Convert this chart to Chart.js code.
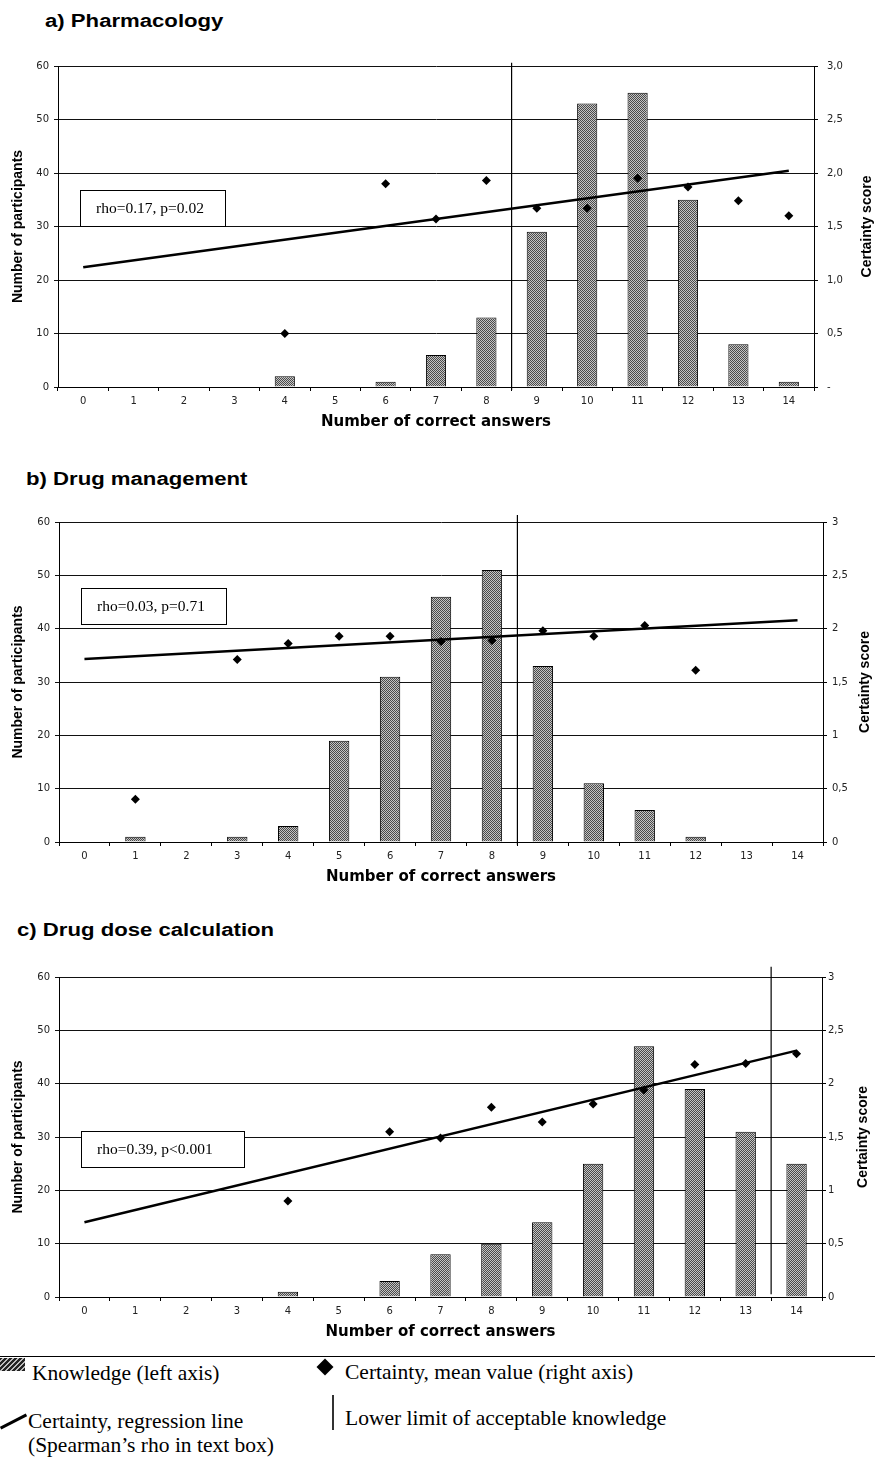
<!DOCTYPE html>
<html>
<head>
<meta charset="utf-8">
<script src="https://cdn.jsdelivr.net/npm/chart.js@4.4.1/dist/chart.umd.min.js"></script>
<style>
  body { margin: 0; width: 875px; height: 1461px; overflow: hidden; position: relative; background: #fff; }
  canvas { position: absolute; left: 0; }
  .panel-title { position: absolute; font: bold 18px "Liberation Sans", Arial, sans-serif; line-height: 1; white-space: nowrap;
                 transform: scaleX(1.23); transform-origin: left top; color: #000; }
  .legend { position: absolute; font: 21.5px "Liberation Serif", "Times New Roman", serif; line-height: 24px; white-space: nowrap; color: #000; }
  .mark { position: absolute; }
</style>
</head>
<body>

<div class="panel-title" style="left:45px;top:11.8px">a) Pharmacology</div>
<canvas id="chartA" width="875" height="389" style="top:46px"></canvas>

<div class="panel-title" style="left:26px;top:469.8px">b) Drug management</div>
<canvas id="chartB" width="875" height="388" style="top:502px"></canvas>

<div class="panel-title" style="left:17px;top:920.8px">c) Drug dose calculation</div>
<canvas id="chartC" width="875" height="388" style="top:957px"></canvas>

<!-- legend -->
<div class="mark" style="left:0;top:1356px;width:875px;height:1px;background:#000"></div>
<div class="mark" style="left:0;top:1358px;width:25px;height:13px;background:repeating-linear-gradient(135deg,#222 0 2px,#bbb 2px 3.5px)"></div>
<div class="legend" style="left:32px;top:1361px">Knowledge (left axis)</div>
<div class="mark" style="left:319px;top:1361px;width:12px;height:12px;background:#000;transform:rotate(45deg)"></div>
<div class="legend" style="left:345px;top:1360px">Certainty, mean value (right axis)</div>
<div class="mark" style="left:-1.5px;top:1420px;width:29px;height:3px;background:#000;transform:rotate(-27deg)"></div>
<div class="legend" style="left:28px;top:1409px">Certainty, regression line<br>(Spearman’s rho in text box)</div>
<div class="mark" style="left:332px;top:1395px;width:1.5px;height:35px;background:#333"></div>
<div class="legend" style="left:345px;top:1406px">Lower limit of acceptable knowledge</div>

<script>
// x categories: number of correct answers
const answers = ['0', '1', '2', '3', '4', '5', '6', '7', '8', '9', '10', '11', '12', '13', '14'];

// a) Pharmacology
const pharmKnowledge = [null, null, null, null, 2, null, 1, 6, 13, 29, 53, 55, 35, 8, 1];
const pharmCertainty = [null, null, null, null, 0.5, null, 1.9, 1.57, 1.93, 1.67, 1.67, 1.95, 1.87, 1.74, 1.6];
const pharmRegression = [1.12, null, null, null, null, null, null, null, null, null, null, null, null, null, 2.02];
const pharmLimit = 8.5;
const pharmCertTicks = ['-', '0,5', '1,0', '1,5', '2,0', '2,5', '3,0'];

// b) Drug management
const mgmtKnowledge = [null, 1, null, 1, 3, 19, 31, 46, 51, 33, 11, 6, 1, null, null];
const mgmtCertainty = [null, 0.4, null, 1.71, 1.86, 1.93, 1.93, 1.88, 1.89, 1.98, 1.93, 2.03, 1.61, null, null];
const mgmtRegression = [1.715, null, null, null, null, null, null, null, null, null, null, null, null, null, 2.08];
const mgmtLimit = 8.5;
const mgmtCertTicks = ['0', '0,5', '1', '1,5', '2', '2,5', '3'];

// c) Drug dose calculation
const doseKnowledge = [null, null, null, null, 1, null, 3, 8, 10, 14, 25, 47, 39, 31, 25];
const doseCertainty = [null, null, null, null, 0.9, null, 1.55, 1.49, 1.78, 1.64, 1.81, 1.94, 2.18, 2.19, 2.28];
const doseRegression = [0.7, null, null, null, null, null, null, null, null, null, null, null, null, null, 2.31];
const doseLimit = 13.5;
const doseCertTicks = ['0', '0,5', '1', '1,5', '2', '2,5', '3'];

function dotPattern() {
  const c = document.createElement('canvas');
  c.width = 2; c.height = 2;
  const g = c.getContext('2d');
  g.fillStyle = '#c4c4c4'; g.fillRect(0, 0, 2, 2);
  g.fillStyle = '#4a4a4a'; g.fillRect(0, 0, 1, 1); g.fillRect(1, 1, 1, 1);
  return g.createPattern(c, 'repeat');
}

// vertical "lower limit" line, placed between two categories on the x scale
const limitLine = {
  id: 'limitLine',
  afterDatasetsDraw(chart, args, o) {
    const {ctx} = chart, x = chart.scales.x, y = chart.scales.y;
    const i = Math.floor(o.value);
    const px = x.getPixelForValue(i) + (o.value - i) * (x.getPixelForValue(i + 1) - x.getPixelForValue(i));
    ctx.save();
    ctx.strokeStyle = '#000';
    ctx.lineWidth = 1.2;
    ctx.beginPath();
    ctx.moveTo(px, y.getPixelForValue(o.from));
    ctx.lineTo(px, y.getPixelForValue(o.to));
    ctx.stroke();
    ctx.restore();
  }
};

// white box with the spearman text
const rhoBox = {
  id: 'rhoBox',
  afterDatasetsDraw(chart, args, o) {
    const {ctx, chartArea} = chart;
    const x = Math.round(chartArea.left + o.dx), y = Math.round(chartArea.top + o.dy);
    ctx.save();
    ctx.fillStyle = '#fff';
    ctx.fillRect(x, y, o.w, o.h);
    ctx.strokeStyle = '#000'; ctx.lineWidth = 1;
    ctx.strokeRect(x + 0.5, y + 0.5, o.w, o.h);
    ctx.fillStyle = '#000';
    ctx.font = '15.5px "Liberation Serif"';
    ctx.textBaseline = 'middle';
    ctx.fillText(o.text, x + 16, y + o.h / 2 + 1);
    ctx.restore();
  }
};

// right axis title reads bottom-to-top like the left one
const rightTitle = {
  id: 'rightTitle',
  afterDraw(chart, args, o) {
    const s = chart.scales.y2, ctx = chart.ctx;
    ctx.save();
    ctx.translate(s.right - o.offset, (s.top + s.bottom) / 2);
    ctx.rotate(-Math.PI / 2);
    ctx.font = 'bold 14px "Liberation Sans"';
    ctx.fillStyle = '#000';
    ctx.textAlign = 'center';
    ctx.textBaseline = 'middle';
    ctx.fillText('Certainty score', 0, 0);
    ctx.restore();
  }
};

const tickFont = {family: 'DejaVu Sans', size: 10};

function makePanel(id, p) {
  return new Chart(document.getElementById(id), {
    type: 'bar',
    data: {
      labels: answers,
      datasets: [
        {type: 'line', data: p.regression, yAxisID: 'y2', borderColor: '#000', borderWidth: 2.5,
         pointRadius: 0, spanGaps: true, order: 1},
        {type: 'line', data: p.certainty, yAxisID: 'y2', showLine: false, pointStyle: 'rectRot',
         pointRadius: 4.5, backgroundColor: '#000', borderColor: '#000', borderWidth: 0, order: 1},
        {type: 'bar', data: p.knowledge, yAxisID: 'y', backgroundColor: dotPattern(), borderColor: '#000',
         borderWidth: 1, grouped: false, categoryPercentage: 1, barPercentage: 0.4, order: 3}
      ]
    },
    plugins: [limitLine, rhoBox, rightTitle],
    options: {
      responsive: false,
      animation: false,
      layout: {padding: {top: 20, left: 0, right: 0, bottom: 0}},
      plugins: {
        legend: {display: false},
        tooltip: {enabled: false},
        limitLine: {value: p.limit, from: p.limitFrom, to: p.limitTo},
        rhoBox: {text: p.rho, dx: 22, dy: p.boxTop, w: p.boxW, h: 36},
        rightTitle: {offset: p.titleOff}
      },
      scales: {
        x: {
          offset: true,
          grid: {offset: true, drawOnChartArea: false, tickLength: 4, color: '#000'},
          border: {color: '#000'},
          ticks: {font: tickFont, color: '#222', padding: 4, maxRotation: 0, autoSkip: false},
          title: {display: true, text: 'Number of correct answers', color: '#000',
                  font: {family: 'DejaVu Sans', weight: 'bold', size: 15}, padding: {top: 0, bottom: 4}},
          afterFit(s) { s.height = 48; }
        },
        y: {
          min: 0, max: 60,
          ticks: {stepSize: 10, font: tickFont, color: '#222', padding: 5},
          grid: {color: '#111', tickLength: 4},
          border: {color: '#000'},
          title: {display: true, text: 'Number of participants', color: '#000',
                  font: {family: 'Liberation Sans', weight: 'bold', size: 14}, padding: {top: 10, bottom: 0}},
          afterFit(s) { s.width = p.leftW; }
        },
        y2: {
          position: 'right',
          min: 0, max: 3,
          ticks: {stepSize: 0.5, font: tickFont, color: '#222', padding: p.rightPad,
                  callback: (v, i) => p.certTicks[i]},
          grid: {drawOnChartArea: false, tickLength: 4, color: '#000'},
          border: {color: '#000'},
          afterFit(s) { s.width = p.rightW; }
        }
      }
    }
  });
}

makePanel('chartA', {
  knowledge: pharmKnowledge, certainty: pharmCertainty, regression: pharmRegression,
  limit: pharmLimit, limitFrom: -0.55, limitTo: 60.6, certTicks: pharmCertTicks,
  rho: 'rho=0.17, p=0.02', boxTop: 124, boxW: 145,
  leftW: 58, rightW: 61, rightPad: 9, titleOff: 8.3
});

makePanel('chartB', {
  knowledge: mgmtKnowledge, certainty: mgmtCertainty, regression: mgmtRegression,
  limit: mgmtLimit, limitFrom: -0.5, limitTo: 61.3, certTicks: mgmtCertTicks,
  rho: 'rho=0.03, p=0.71', boxTop: 66, boxW: 145,
  leftW: 59, rightW: 52, rightPad: 5, titleOff: 10
});

makePanel('chartC', {
  knowledge: doseKnowledge, certainty: doseCertainty, regression: doseRegression,
  limit: doseLimit, limitFrom: 0.5, limitTo: 61.9, certTicks: doseCertTicks,
  rho: 'rho=0.39, p<0.001', boxTop: 154, boxW: 163,
  leftW: 59, rightW: 53, rightPad: 2, titleOff: 12
});
</script>
</body>
</html>
